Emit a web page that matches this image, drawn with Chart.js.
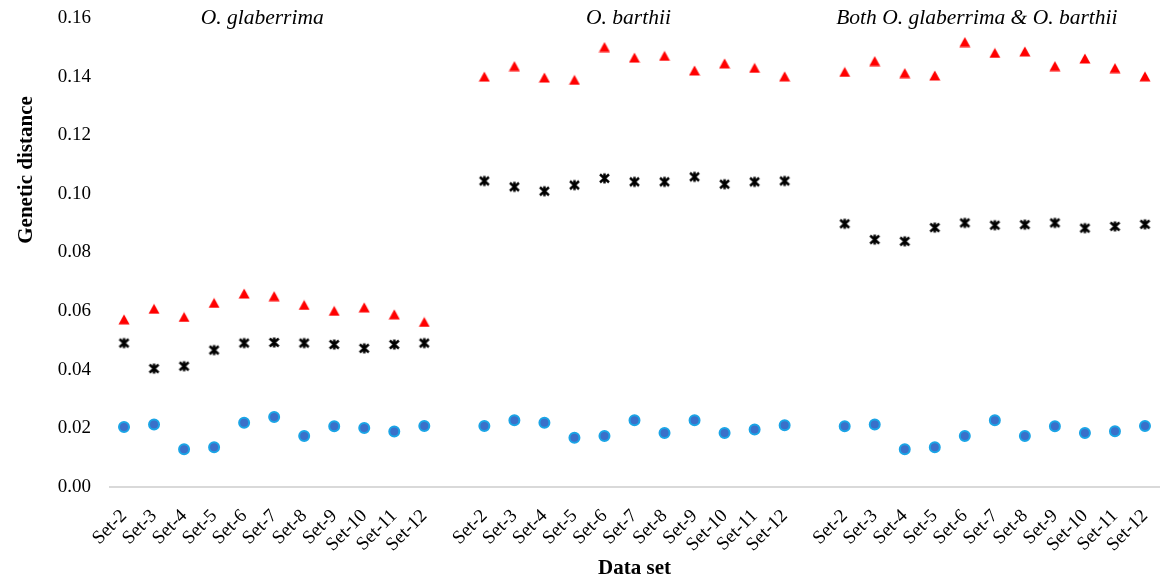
<!DOCTYPE html>
<html>
<head>
<meta charset="utf-8">
<script src="https://cdn.jsdelivr.net/npm/chart.js@4.4.0/dist/chart.umd.min.js"></script>
<style>
  html, body { margin: 0; padding: 0; background: #fff; }
</style>
</head>
<body>
<canvas id="chart" width="1176" height="581"></canvas>
<script>
const setNames = ["Set-2", "Set-3", "Set-4", "Set-5", "Set-6", "Set-7", "Set-8", "Set-9", "Set-10", "Set-11", "Set-12"];
const groupTitles = ["O. glaberrima", "O. barthii", "Both O. glaberrima & O. barthii"];
const yTicks = [0, 0.02, 0.04, 0.06, 0.08, 0.10, 0.12, 0.14, 0.16];

// red triangles
const glabHigh  = [0.0572, 0.0608, 0.0580, 0.0628, 0.0660, 0.0651, 0.0621, 0.0601, 0.0613, 0.0589, 0.0563];
const barthHigh = [0.1400, 0.1436, 0.1397, 0.1389, 0.1501, 0.1465, 0.1471, 0.1421, 0.1445, 0.1430, 0.1401];
const bothHigh  = [0.1416, 0.1453, 0.1412, 0.1404, 0.1518, 0.1481, 0.1486, 0.1436, 0.1462, 0.1429, 0.1401];
// black stars
const glabMid  = [0.0491, 0.0404, 0.0412, 0.0467, 0.0491, 0.0493, 0.0491, 0.0486, 0.0473, 0.0486, 0.0491];
const barthMid = [0.1044, 0.1024, 0.1009, 0.1030, 0.1053, 0.1041, 0.1041, 0.1058, 0.1033, 0.1041, 0.1044];
const bothMid  = [0.0898, 0.0844, 0.0838, 0.0885, 0.0901, 0.0893, 0.0895, 0.0901, 0.0883, 0.0889, 0.0896];
// blue circles
const glabLow  = [0.0205, 0.0213, 0.0129, 0.0136, 0.0219, 0.0239, 0.0174, 0.0207, 0.0201, 0.0189, 0.0208];
const barthLow = [0.0208, 0.0228, 0.0219, 0.0168, 0.0174, 0.0228, 0.0184, 0.0228, 0.0184, 0.0196, 0.0211];
const bothLow  = [0.0207, 0.0213, 0.0129, 0.0136, 0.0174, 0.0228, 0.0174, 0.0207, 0.0184, 0.0190, 0.0208];

// one empty slot between groups
const labels = [...setNames, "", ...setNames, "", ...setNames];
const joinGroups = (a, b, c) => [...a, null, ...b, null, ...c];

const serif = "'Liberation Serif', 'Times New Roman', serif";

// Excel style star marker: x with a vertical bar
function makeStar() {
    const c = document.createElement("canvas");
    c.width = 13;
    c.height = 13;
    const g = c.getContext("2d");
    g.strokeStyle = "#000";
    g.lineWidth = 2.5;
    g.beginPath();
    g.moveTo(2, 2.5); g.lineTo(11, 10.5);
    g.moveTo(11, 2.5); g.lineTo(2, 10.5);
    g.moveTo(6.5, 1.5); g.lineTo(6.5, 11.5);
    g.stroke();
    return c;
}

// triangle centred on its box, like the Excel marker
function makeTriangle() {
    const c = document.createElement("canvas");
    c.width = 12;
    c.height = 11;
    const g = c.getContext("2d");
    g.fillStyle = "#ff0000";
    g.beginPath();
    g.moveTo(6, 0.5);
    g.lineTo(11.5, 10.5);
    g.lineTo(0.5, 10.5);
    g.closePath();
    g.fill();
    return c;
}

const textPlugin = {
    id: "extraText",
    afterDraw(chart) {
        const { ctx, scales: { x } } = chart;
        ctx.save();
        ctx.fillStyle = "#000";
        ctx.textAlign = "center";
        ctx.textBaseline = "middle";
        ctx.font = "italic 21.5px " + serif;
        const at = [4.6, 16.8, 28.4];
        groupTitles.forEach((t, i) => {
            ctx.fillText(t, x.getPixelForValue(at[i]), 18);
        });
        ctx.translate(27, 170);
        ctx.rotate(-Math.PI / 2);
        ctx.font = "bold 21px " + serif;
        ctx.fillText("Genetic distance", 0, 0);
        ctx.restore();
    }
};

new Chart(document.getElementById("chart"), {
    type: "line",
    data: {
        labels: labels,
        datasets: [
            {
                data: joinGroups(glabHigh, barthHigh, bothHigh),
                showLine: false,
                pointStyle: makeTriangle(),
                pointRadius: 6
            },
            {
                data: joinGroups(glabMid, barthMid, bothMid),
                showLine: false,
                pointStyle: makeStar(),
                pointRadius: 6
            },
            {
                data: joinGroups(glabLow, barthLow, bothLow),
                showLine: false,
                pointStyle: "circle",
                pointRadius: 5,
                pointBackgroundColor: "#3a70c9",
                pointBorderColor: "#1ba4e6",
                pointBorderWidth: 2
            }
        ]
    },
    options: {
        responsive: false,
        animation: false,
        layout: { padding: { top: 18, right: 16, bottom: 0, left: 0 } },
        plugins: {
            legend: { display: false },
            tooltip: { enabled: false }
        },
        scales: {
            x: {
                offset: true,
                grid: { display: false },
                border: { display: false },
                ticks: {
                    autoSkip: false,
                    minRotation: 45,
                    maxRotation: 45,
                    padding: 10,
                    color: "#000",
                    font: { family: serif, size: 19 }
                },
                title: {
                    display: true,
                    text: "Data set",
                    color: "#000",
                    font: { family: serif, size: 21, weight: "bold" },
                    padding: { top: 0, bottom: 0 }
                },
                afterFit(scale) { scale.height = 94; }
            },
            y: {
                min: 0,
                max: 0.16,
                afterBuildTicks(scale) { scale.ticks = yTicks.map(v => ({ value: v })); },
                grid: {
                    drawTicks: false,
                    color: c => c.tick && c.tick.value === 0 ? "#d9d9d9" : "rgba(0,0,0,0)",
                    lineWidth: 2
                },
                border: { display: false },
                ticks: {
                    padding: 18,
                    color: "#000",
                    font: { family: serif, size: 19 },
                    callback: v => Number(v).toFixed(2)
                },
                afterFit(scale) {
                    scale.width = 109;
                    scale.paddingTop = 0;
                    scale.paddingBottom = 0;
                }
            }
        }
    },
    plugins: [textPlugin]
});
</script>
</body>
</html>
